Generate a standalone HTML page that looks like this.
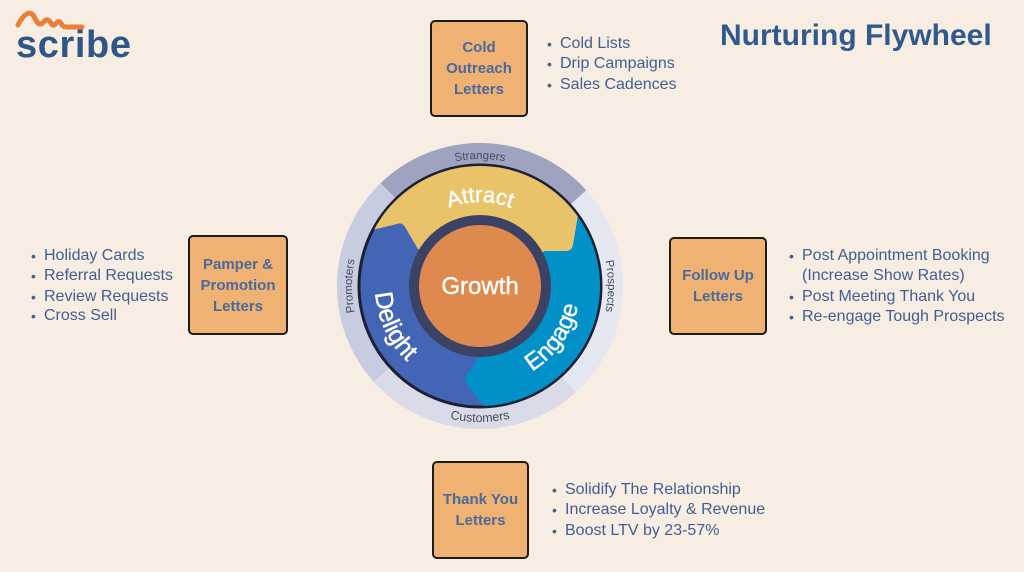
<!DOCTYPE html>
<html><head><meta charset="utf-8">
<style>
html,body{margin:0;padding:0;}
body{width:1024px;height:572px;overflow:hidden;background:#f8ede3;position:relative;font-family:"Liberation Sans",sans-serif;}
.box{position:absolute;background:#efb272;border:2px solid #1c1c1c;border-radius:5px;box-sizing:border-box;display:flex;align-items:center;justify-content:center;text-align:center;color:#4a6a9c;font-weight:bold;font-size:15px;line-height:21px;}
.li{position:absolute;font-size:16px;color:#3f5f92;white-space:nowrap;line-height:20px;}
.li b{position:absolute;left:-13px;font-weight:normal;font-size:14px;}
.title{position:absolute;left:720px;top:18px;font-size:30px;font-weight:bold;color:#305a8c;white-space:nowrap;line-height:36px;}
.logo{position:absolute;left:16px;top:23px;font-size:38px;font-weight:bold;color:#2f5688;line-height:44px;letter-spacing:0.6px;}
</style></head><body>

<div class="logo">scribe</div>

<svg style="position:absolute;left:0;top:0" width="1024" height="572" viewBox="0 0 1024 572">
  <path d="M18,25 C24,13 30,11 33,15 C36,19 37,25 41,24 C44,23 45,19 48,20 C51,21 51,26 54,25 C57,24 57,20 60,22 C62,24 62,27 66,27 L82,27" fill="none" stroke="#e8803a" stroke-width="5" stroke-linecap="round" stroke-linejoin="round"/>
  <defs>
    <clipPath id="inner"><circle cx="480" cy="286" r="120"/></clipPath>
    <path id="pAttract" d="M396,286 A84,84 0 0 1 564,286"/>
    <path id="pStr" d="M353,286 A127,127 0 0 1 607,286"/>
    <path id="pPro" d="M480,414 A128,128 0 0 1 480,158"/>
    <path id="pPros" d="M480,158 A128,128 0 0 1 480,414"/>
    <path id="pCust" d="M344,286 A136,136 0 0 0 616,286"/>
    <path id="pDel" d="M427.5,195.1 A105,105 0 0 0 515.9,384.7"/>
    <path id="pEng" d="M430,372.6 A100,100 0 0 0 544.3,209.4"/>
  </defs>
  <!-- outer band -->
  <circle cx="480" cy="286" r="143" fill="#dadde9"/>
  <path d="M388.0,190.7 A132.5,132.5 0 0 1 578.5,197.3" fill="none" stroke="#9ea3bf" stroke-width="21"/>
  <path d="M578.5,197.3 A132.5,132.5 0 0 1 568.7,384.5" fill="none" stroke="#e5e7f1" stroke-width="21"/>
  <path d="M568.7,384.5 A132.5,132.5 0 0 1 381.5,374.7" fill="none" stroke="#d9dce8" stroke-width="21"/>
  <path d="M381.5,374.7 A132.5,132.5 0 0 1 388.0,190.7" fill="none" stroke="#c8cce0" stroke-width="21"/>
  <!-- main disk -->
  <circle cx="480" cy="286" r="121" fill="#4265b5" stroke="#1d2030" stroke-width="3"/>
  <g clip-path="url(#inner)">
    <path d="M330,110 L640,110 L640,200 L579,210 L573,245 Q572,251 566,251 L545,251 L480,286 L418,249 L405,227 Q402,222 397,224 L330,240 Z" fill="#e8c36a"/>
    <path d="M640,200 L579,210 L573,245 Q572,251 566,251 L545,251 L480,286 L481,354 L467,375 Q463,381 468,386 L487,410 L640,460 Z" fill="#0290c8"/>
  </g>
  <circle cx="480" cy="286" r="71" fill="#3c4263"/>
  <circle cx="480" cy="286" r="61" fill="#de8a4e"/>
  <text x="480" y="294" text-anchor="middle" font-family="Liberation Sans, sans-serif" font-size="24" fill="#ffffff" stroke="#ffffff" stroke-width="0.4">Growth</text>
  <g font-family="Liberation Sans, sans-serif" fill="#ffffff" stroke="#ffffff" stroke-width="0.4">
    <text font-size="22"><textPath href="#pAttract" startOffset="50%" text-anchor="middle">Attract</textPath></text>
    <text font-size="25"><textPath href="#pDel" startOffset="50%" text-anchor="middle">Delight</textPath></text>
    <text font-size="24"><textPath href="#pEng" startOffset="50%" text-anchor="middle">Engage</textPath></text>
  </g>
  <g font-family="Liberation Sans, sans-serif" fill="#474b60" font-size="11.5">
    <text><textPath href="#pStr" startOffset="50%" text-anchor="middle">Strangers</textPath></text>
    <text><textPath href="#pPro" startOffset="50%" text-anchor="middle">Promoters</textPath></text>
    <text><textPath href="#pPros" startOffset="50%" text-anchor="middle">Prospects</textPath></text>
    <text font-size="12.5"><textPath href="#pCust" startOffset="50%" text-anchor="middle">Customers</textPath></text>
  </g>
</svg>

<div class="title">Nurturing Flywheel</div>

<div class="box" style="left:430px;top:20px;width:98px;height:97px;">Cold<br>Outreach<br>Letters</div>
<div class="box" style="left:188px;top:235px;width:100px;height:100px;">Pamper &amp;<br>Promotion<br>Letters</div>
<div class="box" style="left:669px;top:237px;width:98px;height:98px;">Follow Up<br>Letters</div>
<div class="box" style="left:432px;top:461px;width:97px;height:98px;">Thank You<br>Letters</div>

<div class="li" style="left:560px;top:34px;"><b>•</b>Cold Lists</div>
<div class="li" style="left:560px;top:54px;"><b>•</b>Drip Campaigns</div>
<div class="li" style="left:560px;top:75px;"><b>•</b>Sales Cadences</div>

<div class="li" style="left:44px;top:246px;"><b>•</b>Holiday Cards</div>
<div class="li" style="left:44px;top:266px;"><b>•</b>Referral Requests</div>
<div class="li" style="left:44px;top:287px;"><b>•</b>Review Requests</div>
<div class="li" style="left:44px;top:306px;"><b>•</b>Cross Sell</div>

<div class="li" style="left:802px;top:246px;"><b>•</b>Post Appointment Booking</div>
<div class="li" style="left:802px;top:266px;">(Increase Show Rates)</div>
<div class="li" style="left:802px;top:287px;"><b>•</b>Post Meeting Thank You</div>
<div class="li" style="left:802px;top:307px;"><b>•</b>Re-engage Tough Prospects</div>

<div class="li" style="left:565px;top:480px;"><b>•</b>Solidify The Relationship</div>
<div class="li" style="left:565px;top:500px;"><b>•</b>Increase Loyalty &amp; Revenue</div>
<div class="li" style="left:565px;top:521px;"><b>•</b>Boost LTV by 23-57%</div>

</body></html>
